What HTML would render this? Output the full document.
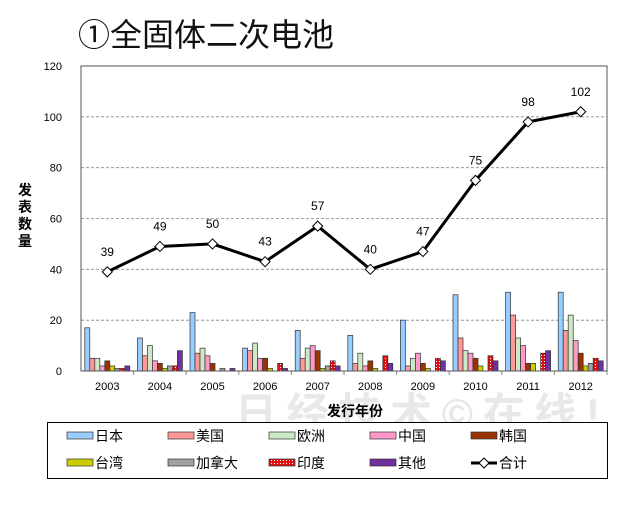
<!DOCTYPE html>
<html><head><meta charset="utf-8"><style>
body{margin:0;background:#fff;width:630px;height:500px;overflow:hidden}
svg text{font-family:"Liberation Sans","Noto Sans CJK SC",sans-serif}
</style></head><body>
<svg id="s" width="630" height="500" xmlns="http://www.w3.org/2000/svg">
<defs><pattern id="dots" width="3" height="3" patternUnits="userSpaceOnUse"><rect width="3" height="3" fill="#e01010"/><rect x="1" y="1" width="1" height="1" fill="#fff"/></pattern></defs>
<text x="78" y="46" font-size="32" fill="#111">①全固体二次电池</text>
<text x="235" y="428" font-size="42" fill="#e8e8e8" font-weight="bold" textLength="365">日经技术©在线!</text>
<g id="g"></g>
<text x="355" y="416" font-size="14" font-weight="bold" text-anchor="middle">发行年份</text>
<g font-size="14" font-weight="bold" text-anchor="middle"><text x="25" y="195">发</text><text x="25" y="212">表</text><text x="25" y="229">数</text><text x="25" y="246">量</text></g>
<rect x="47.5" y="422.5" width="560" height="56" fill="#fff" stroke="#000"/>
<g id="lg" font-size="14"></g>
</svg>
<script>
var g=document.getElementById('g'),h='';
var L=81,R=607,T=66,B=371,yv=v=>B-v*(B-T)/120;
for(var k=0;k<=120;k+=20){var y=yv(k);if(k>0&&k<120)h+=`<line x1="${L}" x2="${R}" y1="${y}" y2="${y}" stroke="#888" stroke-dasharray="3,2" stroke-width="0.8"/>`;h+=`<text x="62" y="${y+4}" font-size="11" text-anchor="end">${k}</text>`;}
var cols=['#99ccff','#ff9999','#cce8c4','#ff99cc','#993300','#cccc00','#a0a0a0','url(#dots)','#7030a0'];
var d=[[17,5,5,2,4,2,1,1,2],[13,6,10,4,3,1,2,2,8],[23,7,9,6,3,0,1,0,1],[9,8,11,5,5,1,0,3,1],[16,5,9,10,8,1,2,4,2],[14,3,7,2,4,1,0,6,3],[20,2,5,7,3,1,0,5,4],[30,13,8,7,5,2,0,6,4],[31,22,13,10,3,3,0,7,8],[31,16,22,12,7,2,3,5,4]];
var tot=[39,49,50,43,57,40,47,75,98,102],w=(R-L)/10,pts=[];
for(var i=0;i<10;i++){var c=L+w*(i+.5);
 for(var j=0;j<9;j++){var v=d[i][j];if(!v)continue;var x=c-22.5+j*5;h+=`<rect x="${x}" y="${yv(v)}" width="5" height="${B-yv(v)}" fill="${cols[j]}" stroke="#333" stroke-width="0.7"/>`;}
 h+=`<line x1="${L+w*(i+1)}" x2="${L+w*(i+1)}" y1="${B}" y2="${B+4}" stroke="#888"/>`;
 h+=`<text x="${c}" y="390" font-size="11" text-anchor="middle">${2003+i}</text>`;
 pts.push([c,yv(tot[i])]);}
h+=`<polyline points="${pts.map(p=>p.join(',')).join(' ')}" fill="none" stroke="#000" stroke-width="3"/>`;
pts.forEach((p,i)=>{h+=`<path d="M${p[0]-5},${p[1]} L${p[0]},${p[1]-5} L${p[0]+5},${p[1]} L${p[0]},${p[1]+5}Z" fill="#fff" stroke="#000"/><text x="${p[0]}" y="${p[1]-16}" font-size="12" text-anchor="middle">${tot[i]}</text>`;});
h+=`<rect x="${L}" y="${T}" width="${R-L}" height="${B-T}" fill="none" stroke="#555" stroke-width="1"/>`;
g.innerHTML=h;
var names=['日本','美国','欧洲','中国','韩国','台湾','加拿大','印度','其他','合计'],lh='';
for(var n=0;n<10;n++){var r=Math.floor(n/5),cc=n%5,x=67+cc*101,y=r?464:437;
 if(n<9)lh+=`<rect x="${x}" y="${y-5}" width="26" height="7" fill="${cols[n]}" stroke="#333" stroke-width="0.7"/>`;
 else lh+=`<line x1="${x}" x2="${x+26}" y1="${y-1}" y2="${y-1}" stroke="#000" stroke-width="3"/><path d="M${x+8},${y-1} L${x+13},${y-6} L${x+18},${y-1} L${x+13},${y+4}Z" fill="#fff" stroke="#000"/>`;
 lh+=`<text x="${x+28}" y="${y+4}">${names[n]}</text>`;}
document.getElementById('lg').innerHTML=lh;
</script>
</body></html>
